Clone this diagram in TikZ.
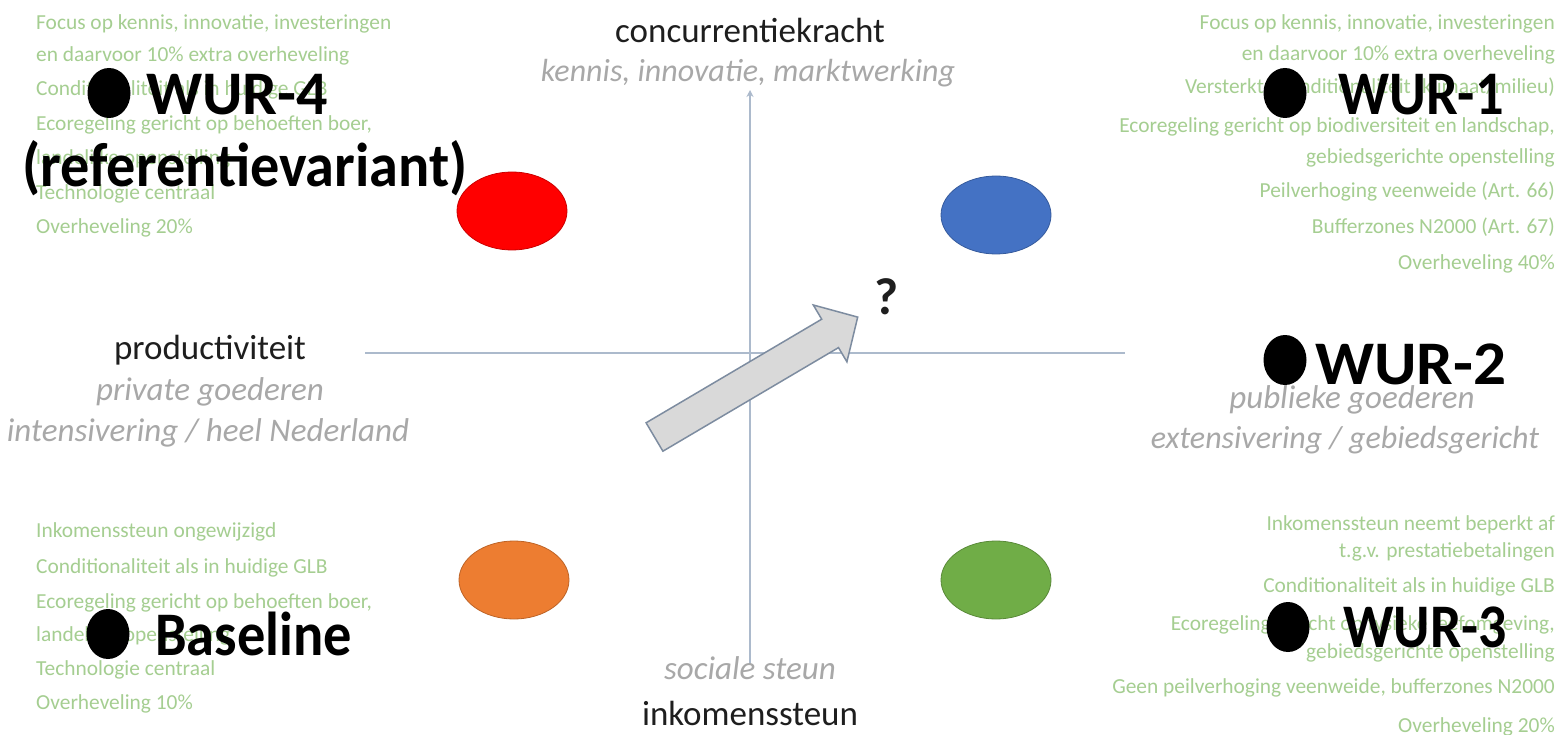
\documentclass[tikz,border=0pt]{standalone}
\usepackage{fontspec}
\setmainfont{Carlito}
\usetikzlibrary{arrows.meta,shapes.geometric}
\definecolor{gtext}{RGB}{165,206,145}
\definecolor{labgray}{RGB}{168,168,168}
\definecolor{labblack}{RGB}{30,30,30}
\definecolor{axiscol}{RGB}{172,186,204}
\definecolor{ered}{RGB}{255,0,0}
\definecolor{eblue}{RGB}{68,114,196}
\definecolor{eorange}{RGB}{237,125,49}
\definecolor{egreen}{RGB}{112,173,71}
\definecolor{arrfill}{RGB}{217,217,217}
\definecolor{arrdraw}{RGB}{125,140,160}
\begin{document}
\begin{tikzpicture}[x=1pt,y=-1pt,
  green/.style={text=gtext,font=\fontsize{21.4}{25}\selectfont,inner sep=0pt,text height=15pt,text depth=5pt},
  gl/.style={green,anchor=west},
  gr/.style={green,anchor=east},
  big/.style={font=\bfseries\fontsize{62}{70}\selectfont,inner sep=0pt,text=black,anchor=base west},
  dot/.style={ellipse,fill=black,inner sep=0pt,minimum width=43pt,minimum height=50pt},
  axislab/.style={font=\fontsize{35}{40}\selectfont,text=labblack,inner sep=0pt},
  sublab/.style={font=\itshape\fontsize{33}{38}\selectfont,text=labgray,inner sep=0pt},
  axis/.style={draw=axiscol,line width=2pt},
  blob/.style={ellipse,inner sep=0pt,minimum width=110pt,minimum height=78pt,line width=0.8pt}
]
\useasboundingbox[fill=white] (0,0) rectangle (1563,735);

% ---- green text, WUR-4 block
\node[gl] (a1) at (36,25)  {Focus op kennis, innovatie, investeringen};
\node[gl] (a2) at (36,57)  {en daarvoor 10\% extra overheveling};
\node[gl] (a3) at (36,91)  {Conditionaliteit als in huidige GLB};
\node[gl] (a4) at (36,126) {Ecoregeling gericht op behoeften boer,};
\node[gl] (a5) at (36,160) {landelijke openstelling};
\node[gl] (a6) at (36,195) {Technologie centraal};
\node[gl] (a7) at (36,229) {Overheveling 20\%};

% ---- green text, WUR-1 block
\node[gr] (b1) at (1555,25)  {Focus op kennis, innovatie, investeringen};
\node[gr] (b2) at (1555,56)  {en daarvoor 10\% extra overheveling};
\node[gr] (b3) at (1555,89)  {Versterkte conditionaliteit (klimaat/milieu)};
\node[gr] (b4) at (1555,128) {Ecoregeling gericht op biodiversiteit en landschap,};
\node[gr] (b5) at (1555,159) {gebiedsgerichte openstelling};
\node[gr] (b6) at (1555,193) {Peilverhoging veenweide (Art. 66)};
\node[gr] (b7) at (1555,229) {Bufferzones N2000 (Art. 67)};
\node[gr] (b8) at (1555,265) {Overheveling 40\%};

% ---- green text, Baseline block
\node[gl] (c1) at (36,532) {Inkomenssteun ongewijzigd};
\node[gl] (c2) at (36,568) {Conditionaliteit als in huidige GLB};
\node[gl] (c3) at (36,603) {Ecoregeling gericht op behoeften boer,};
\node[gl] (c4) at (36,636) {landelijke openstelling};
\node[gl] (c5) at (36,670) {Technologie centraal};
\node[gl] (c6) at (36,704) {Overheveling 10\%};

% ---- green text, WUR-3 block
\node[gr] (d1) at (1555,525) {Inkomenssteun neemt beperkt af};
\node[gr] (d2) at (1555,552) {t.g.v. prestatiebetalingen};
\node[gr] (d3) at (1555,587) {Conditionaliteit als in huidige GLB};
\node[gr] (d4) at (1555,625) {Ecoregeling gericht op fysieke leefomgeving,};
\node[gr] (d5) at (1555,653) {gebiedsgerichte openstelling};
\node[gr] (d6) at (1555,688) {Geen peilverhoging veenweide, bufferzones N2000};
\node[gr] (d7) at (1555,727) {Overheveling 20\%};

% ---- axes
\coordinate (hl) at (365,353);
\coordinate (hr) at (1125,353);
\coordinate (vb) at (750,665);
\coordinate (vt) at (750,90);
\draw[axis] (hl) -- (hr);
\draw[axis,-{Stealth[length=7pt,width=7pt]}] (vb) -- (vt);

% ---- ellipses
\node[blob,fill=ered,draw=ered!80!black] (red) at (512,211) {};
\node[blob,fill=eblue,draw=eblue!80!black] (blue) at (996,215) {};
\node[blob,fill=eorange,draw=eorange!80!black] (orange) at (514,580) {};
\node[blob,fill=egreen,draw=egreen!80!black] (greenE) at (996,580) {};

% ---- block arrow
\coordinate (t1) at (646.1,422.8);
\coordinate (t2) at (662.9,451.2);
\coordinate (n1) at (821.7,319.2);
\coordinate (n2) at (838.5,347.6);
\coordinate (h1) at (813.3,305.0);
\coordinate (h2) at (846.9,361.8);
\coordinate (tip) at (857.7,317.1);
\draw[fill=arrfill,draw=arrdraw,line width=1.5pt,line join=miter]
  (t1) -- (n1) -- (h1) -- (tip) -- (h2) -- (n2) -- (t2) -- cycle;
\node[font=\bfseries\fontsize{52}{60}\selectfont,inner sep=0pt,text=labblack] (q) at (887,297) {?};

% ---- axis labels
\node[axislab] (conc) at (750,30) {concurrentiekracht};
\node[sublab,font=\itshape\fontsize{32}{38}\selectfont] (kenn) at (748,73) {kennis, innovatie, marktwerking};
\node[axislab] (prod) at (210,350) {productiviteit};
\node[sublab] (priv) at (210,392) {private goederen};
\node[sublab] (inte) at (208,433) {intensivering / heel Nederland};
\node[sublab] (publ) at (1352,400) {publieke goederen};
\node[sublab,font=\itshape\fontsize{32}{38}\selectfont] (exte) at (1345,440) {extensivering / gebiedsgericht};
\node[sublab] (soci) at (750,668) {sociale steun};
\node[axislab] (inko) at (750,713) {inkomenssteun};

% ---- big labels with dots
\node[dot] (dot4) at (109,93) {};
\node[big] (wur4) at (146,115) {WUR-4};
\node[big] (refv) at (22,187) {\scalebox{0.94}[1]{(referentievariant)}};
\node[dot] (dot1) at (1285,93) {};
\node[big] (wur1) at (1338,115) {\scalebox{0.91}[1]{WUR-1}};
\node[dot] (dot2) at (1285,360) {};
\node[big] (wur2) at (1315,384) {\scalebox{1.05}[1]{WUR-2}};
\node[dot] (dot3) at (1288,627) {};
\node[big] (wur3) at (1343,647) {\scalebox{0.9}[1]{WUR-3}};
\node[dot] (dotb) at (108,634) {};
\node[big] (base) at (155,655) {\scalebox{0.91}[1]{Baseline}};
\end{tikzpicture}
\end{document}
